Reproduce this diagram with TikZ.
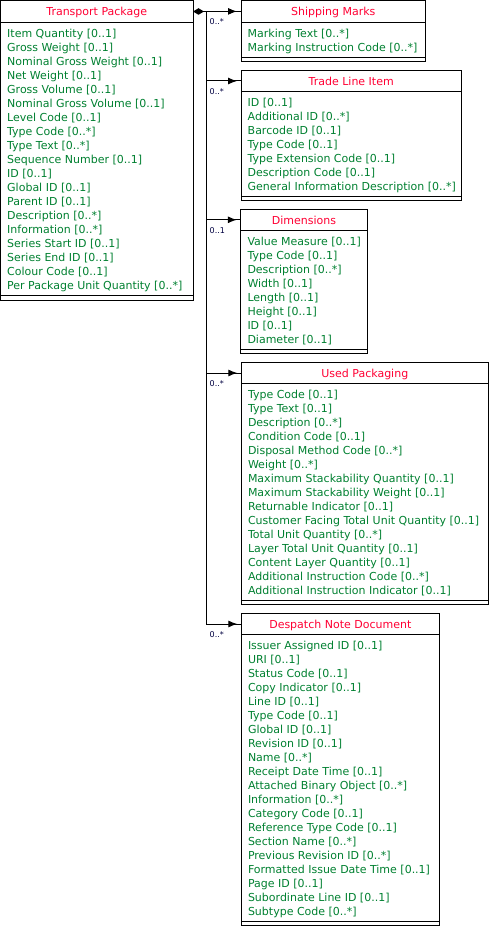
\documentclass[tikz,border=0pt]{standalone}
\usepackage{fontspec}
\setmainfont{DejaVu Sans}
\usetikzlibrary{arrows.meta}
\definecolor{ttl}{RGB}{255,0,51}
\definecolor{att}{RGB}{0,128,48}
\definecolor{mult}{RGB}{0,0,64}
\tikzset{
  box/.style={draw=black, line width=1pt, rectangle, inner sep=0pt, outer sep=0pt},
  ttltext/.style={text=ttl, font=\fontsize{11}{14}\selectfont, inner sep=0pt, anchor=base},
  attr/.style={text=att, font=\fontsize{11}{14}\selectfont, inner sep=0pt, anchor=base west},
  multlabel/.style={text=mult, font=\fontsize{8}{10}\selectfont, inner sep=0pt, anchor=base west},
  link/.style={line width=1pt, draw=black},
  tiparrow/.style={-{Latex[length=9pt,width=7pt]}, line width=1pt},
  diamstart/.style={{Diamond[length=11pt,width=6.5pt]}-, line width=1pt},
}
% #1 id, #2 left, #3 top, #4 width, #5 title height, #6 title, #7 rows
\newcommand\mkclass[7]{%
  \node[box, minimum width=#4pt, minimum height=#5pt, anchor=north west] (#1t) at (#2,#3) {};
  \node[ttltext] (#1n) at ([yshift=-4.3pt]#1t.center) {#6};
  \foreach \r [count=\i] in {#7} {%
    \node[attr] (#1r\i) at ([xshift=6.5pt, yshift={-15pt-(\i-1)*14pt}]#1t.south west) {\r};
    \xdef\nrows{\i}%
  }
  \node[box, minimum width=#4pt, minimum height={\nrows*14pt+7pt}, anchor=north west] (#1b) at (#1t.south west) {};
  \node[box, minimum width=#4pt, minimum height=4.6pt, anchor=north west] (#1e) at (#1b.south west) {};
}
\begin{document}
\begin{tikzpicture}[x=1pt,y=-1pt]
\useasboundingbox (0,0) rectangle (490,941);

\mkclass{tp}{0.5}{0.5}{192.5}{22}{Transport Package}{Item Quantity [0..1],Gross Weight [0..1],Nominal Gross Weight [0..1],Net Weight [0..1],Gross Volume [0..1],Nominal Gross Volume [0..1],Level Code [0..1],Type Code [0..*],Type Text [0..*],Sequence Number [0..1],ID [0..1],Global ID [0..1],Parent ID [0..1],Description [0..*],Information [0..*],Series Start ID [0..1],Series End ID [0..1],Colour Code [0..1],Per Package Unit Quantity [0..*]}

\mkclass{sm}{241}{0.5}{184.5}{21.8}{Shipping Marks}{Marking Text [0..*],Marking Instruction Code [0..*]}

\mkclass{tl}{241}{70.7}{220.5}{20.6}{Trade Line Item}{ID [0..1],Additional ID [0..*],Barcode ID [0..1],Type Code [0..1],Type Extension Code [0..1],Description Code [0..1],General Information Description [0..*]}

\mkclass{dm}{240.8}{209.3}{126.5}{21}{Dimensions}{Value Measure [0..1],Type Code [0..1],Description [0..*],Width [0..1],Length [0..1],Height [0..1],ID [0..1],Diameter [0..1]}

\mkclass{up}{241.3}{362.7}{247}{20.6}{Used Packaging}{Type Code [0..1],Type Text [0..1],Description [0..*],Condition Code [0..1],Disposal Method Code [0..*],Weight [0..*],Maximum Stackability Quantity [0..1],Maximum Stackability Weight [0..1],Returnable Indicator [0..1],Customer Facing Total Unit Quantity [0..1],Total Unit Quantity [0..*],Layer Total Unit Quantity [0..1],Content Layer Quantity [0..1],Additional Instruction Code [0..*],Additional Instruction Indicator [0..1]}

\mkclass{dn}{241.3}{613.7}{198}{20.6}{Despatch Note Document}{Issuer Assigned ID [0..1],URI [0..1],Status Code [0..1],Copy Indicator [0..1],Line ID [0..1],Type Code [0..1],Global ID [0..1],Revision ID [0..1],Name [0..*],Receipt Date Time [0..1],Attached Binary Object [0..*],Information [0..*],Category Code [0..1],Reference Type Code [0..1],Section Name [0..*],Previous Revision ID [0..*],Formatted Issue Date Time [0..1],Page ID [0..1],Subordinate Line ID [0..1],Subtype Code [0..*]}

% connectors
\coordinate (j) at ([xshift=13pt]tpt.east);
\draw[diamstart] (tpt.east) -- (tpt.east -| smt.west);
\foreach \c in {tl,dm,up,dn} {
  \draw[link] (j) |- (\c t.west);
}
\foreach \c in {sm,tl,dm,up,dn} {
  \draw[tiparrow] ([xshift=-13pt]\c t.west) -- ([xshift=-4pt]\c t.west);
}

% multiplicities
\node[multlabel] (msm) at ([xshift=-31.5pt,yshift=-13.5pt]smt.west) {0..*};
\node[multlabel] (mtl) at ([xshift=-31.5pt,yshift=-13.5pt]tlt.west) {0..*};
\node[multlabel] (mdm) at ([xshift=-31.3pt,yshift=-13.5pt]dmt.west) {0..1};
\node[multlabel] (mup) at ([xshift=-31.8pt,yshift=-13.5pt]upt.west) {0..*};
\node[multlabel] (mdn) at ([xshift=-31.8pt,yshift=-13.5pt]dnt.west) {0..*};
\end{tikzpicture}
\end{document}
